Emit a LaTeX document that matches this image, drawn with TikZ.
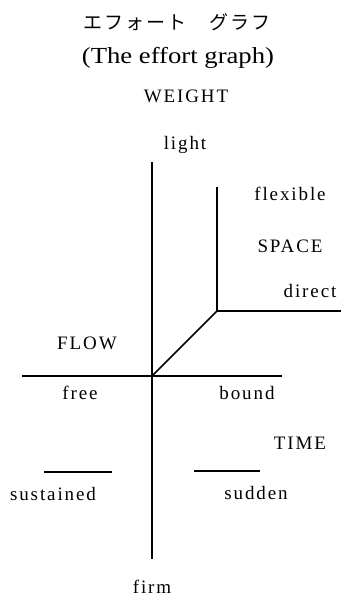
\documentclass[tikz,border=0pt]{standalone}
\usepackage{fontspec}
\setmainfont{Liberation Serif}[LetterSpace=10]
\newfontfamily\jpfont{Noto Sans CJK JP}[LetterSpace=10]
\newfontfamily\titlefont{Liberation Serif}
\begin{document}
\begin{tikzpicture}[x=1pt,y=-1pt,
  lbl/.style={anchor=base,inner sep=0pt,font=\fontsize{19}{21}\selectfont},
  ttl/.style={anchor=base,inner sep=0pt,font=\titlefont\fontsize{23}{26}\selectfont},
  axis/.style={line width=1.6pt},
  seg/.style={line width=1.5pt}]
\useasboundingbox (0,0) rectangle (341,597);
% titles
\node[anchor=base,inner sep=0pt,font=\jpfont\fontsize{19}{21}\selectfont] (jp) at (177,29) {エフォート　グラフ};
\node[ttl] (en) at (178,63) {\scalebox{1.16}[1]{(The effort graph)}};
\node[lbl] (weight) at (186,102) {WEIGHT};
\node[lbl] (light) at (185,149) {light};
% axes
\coordinate (vtop) at (152,162);
\coordinate (vbot) at (152,559);
\coordinate (hl) at (22,376);
\coordinate (hr) at (282,376);
\coordinate (o) at (152,376);
\coordinate (k) at (217,311);
\coordinate (ktop) at (217,187);
\coordinate (kright) at (341,311);
\draw[axis] (vtop) -- (vbot);
\draw[axis] (hl) -- (hr);
\draw[seg] (o) -- (k);
\draw[seg] (ktop) -- (k) -- (kright);
% short lines
\coordinate (sl1) at (44,472);
\coordinate (sl2) at (112,472);
\coordinate (sr1) at (194,471);
\coordinate (sr2) at (260,471);
\draw[seg] (sl1) -- (sl2);
\draw[seg] (sr1) -- (sr2);
% labels
\node[lbl] (flexible) at (290,200) {flexible};
\node[lbl] (space) at (290,252) {SPACE};
\node[lbl] (direct) at (310,297) {direct};
\node[lbl] (flow) at (87,349) {FLOW};
\node[lbl] (free) at (80,399) {free};
\node[lbl] (bound) at (247,399) {bound};
\node[lbl] (time) at (300,449) {TIME};
\node[lbl] (sustained) at (53,500) {sustained};
\node[lbl] (sudden) at (256,499) {sudden};
\node[lbl] (firm) at (152,593) {firm};
\end{tikzpicture}
\end{document}
